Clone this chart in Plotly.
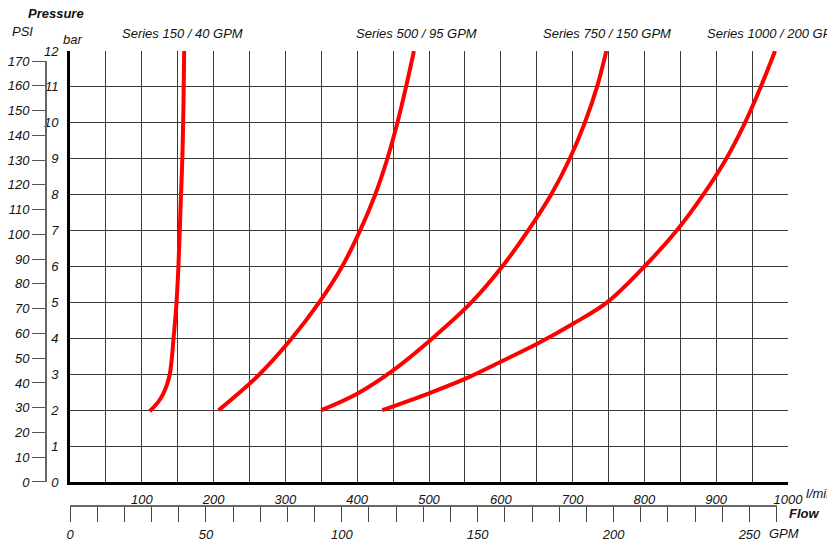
import plotly.graph_objects as go

# ---------------- data ----------------
s150_flow = [111, 123, 130, 135.5, 139, 142, 144, 148, 151, 154, 156.5, 158, 159]
s150_bar = [1.97, 2.23, 2.46, 2.74, 3.0, 3.48, 3.95, 4.88, 6.0, 7.66, 9.06, 10.45, 12.0]

s500_flow = [207, 264, 309, 347, 379, 404, 425, 442, 456, 468, 479]
s500_bar = [2.0, 3.0, 4.0, 5.0, 6.0, 7.0, 8.0, 9.0, 10.0, 11.0, 12.0]

s750_flow = [350, 400, 450, 503, 559, 602, 638, 670, 696, 717, 734, 747]
s750_bar = [2.0, 2.46, 3.11, 3.97, 5.0, 6.0, 7.0, 8.0, 9.0, 10.0, 11.0, 12.0]

s1000_flow = [435, 500, 550, 600, 650, 700, 748, 800, 845, 882, 914, 940, 962, 982]
s1000_bar = [2.0, 2.47, 2.87, 3.35, 3.84, 4.4, 5.0, 6.0, 7.0, 8.0, 9.0, 10.0, 11.0, 12.0]

series_labels = ["Series 150 / 40 GPM", "Series 500 / 95 GPM",
                 "Series 750 / 150 GPM", "Series 1000 / 200 GPM"]

flow_ticks = [100, 200, 300, 400, 500, 600, 700, 800, 900, 1000]
bar_ticks = list(range(0, 13))
psi_ticks = list(range(0, 171, 10))
gpm_ticks = [0, 50, 100, 150, 200, 250]

BAR_MAX = 12
FLOW_MAX = 1000
PSI_MAX = 170
GPM_MAX = 260
PSI_PER_BAR = 14.5038
LPM_PER_GPM = 3.78541

# ---------------- layout geometry (pixels) ----------------
W, H = 827, 552
ML, MR, MT, MB = 20, 39, 51, 10
PW = W - ML - MR
PH = H - MT - MB
X0 = 70          # flow = 0
X1 = W - MR      # flow = 1000
Y0 = 482         # bar = 0
Y1 = MT          # bar = 12
PX_PER_BAR = (Y0 - Y1) / BAR_MAX
PX_PER_LPM = (X1 - X0) / FLOW_MAX


def fx(x):
    return (x - ML) / PW


def fy(y):
    return (H - MB - y) / PH


FONT = "Liberation Sans, Arial, sans-serif"
GRID = "#3a3a3a"

fig = go.Figure()
for fl, br in [(s150_flow, s150_bar), (s500_flow, s500_bar),
               (s750_flow, s750_bar), (s1000_flow, s1000_bar)]:
    fig.add_trace(go.Scatter(x=fl, y=br, mode="lines",
                             line=dict(color="#ff0000", width=4, shape="spline"),
                             showlegend=False, hoverinfo="skip"))

# helper trace so the PSI / GPM axes are drawn
fig.add_trace(go.Scatter(x=[None], y=[None], xaxis="x2", yaxis="y2",
                         showlegend=False, hoverinfo="skip"))

psi_top_px = Y0 - PSI_MAX / PSI_PER_BAR * PX_PER_BAR
gpm_end_px = X0 + GPM_MAX * LPM_PER_GPM * PX_PER_LPM

tickfont = dict(family=FONT, size=13, color="#111", style="italic")

fig.update_layout(
    width=W, height=H, autosize=False,
    margin=dict(l=ML, r=MR, t=MT, b=MB, pad=0, autoexpand=False),
    paper_bgcolor="white", plot_bgcolor="rgba(0,0,0,0)",
    showlegend=False,
    xaxis=dict(domain=[fx(X0), 1], range=[0, FLOW_MAX], anchor="y",
               automargin=False,
               tickvals=flow_ticks, ticktext=[str(v) for v in flow_ticks],
               ticks="", ticklabelstandoff=3,
               showgrid=True, gridcolor=GRID, gridwidth=1.2,
               minor=dict(dtick=50, showgrid=True, gridcolor=GRID, gridwidth=1.2),
               showline=True, linecolor="black", linewidth=3,
               zeroline=False, tickfont=tickfont),
    yaxis=dict(domain=[fy(Y0), 1], range=[0, BAR_MAX], anchor="x",
               automargin=False,
               tickvals=bar_ticks, ticks="", ticklabelstandoff=6,
               showgrid=True, gridcolor=GRID, gridwidth=1.2,
               showline=True, linecolor="black", linewidth=3,
               zeroline=False, tickfont=tickfont),
    yaxis2=dict(domain=[fy(Y0), fy(psi_top_px)], range=[0, PSI_MAX],
                anchor="free", position=fx(46), side="left",
                automargin=False,
                tickvals=psi_ticks, ticks="outside", ticklen=13, tickwidth=1.3,
                tickcolor="#555", showline=True, linecolor="#666", linewidth=2,
                showgrid=False, zeroline=False, tickfont=tickfont,
                ticklabelstandoff=0),
    xaxis2=dict(domain=[fx(X0), fx(gpm_end_px)], range=[0, GPM_MAX],
                anchor="free", position=fy(506), side="bottom",
                automargin=False,
                tickvals=gpm_ticks, ticks="outside", ticklen=15, tickwidth=1.3,
                tickcolor="#444",
                minor=dict(dtick=10, ticks="outside", ticklen=15, tickwidth=1.3,
                           tickcolor="#444", showgrid=False),
                showline=True, linecolor="#666", linewidth=1.5,
                showgrid=False, zeroline=False, tickfont=tickfont,
                ticklabelstandoff=2),
)

ann_font = dict(family=FONT, size=13, color="#111", style="italic")
bold_font = dict(family=FONT, size=13, color="#111", style="italic", weight="bold")


def add_text(text, x, y, font, xanchor="center"):
    fig.add_annotation(text=text, x=fx(x), y=fy(y), xref="paper", yref="paper",
                       showarrow=False, xanchor=xanchor, yanchor="middle",
                       font=font)


add_text("Pressure", 56, 13, bold_font)
add_text("PSI", 22, 32, ann_font)
add_text("bar", 72, 40, ann_font)
add_text(series_labels[0], 182, 33, ann_font)
add_text(series_labels[1], 416, 33, ann_font)
add_text(series_labels[2], 607, 33, ann_font)
add_text(series_labels[3], 705, 33, ann_font, xanchor="left")
add_text("l/min", 804, 493, ann_font, xanchor="left")
add_text("Flow", 787, 513, bold_font, xanchor="left")
add_text("GPM", 767, 533, ann_font, xanchor="left")

fig.write_html("out.html",
               config={"displayModeBar": False},
               post_script="document.body.style.margin='0px';"
                           "document.body.style.overflow='hidden';")
